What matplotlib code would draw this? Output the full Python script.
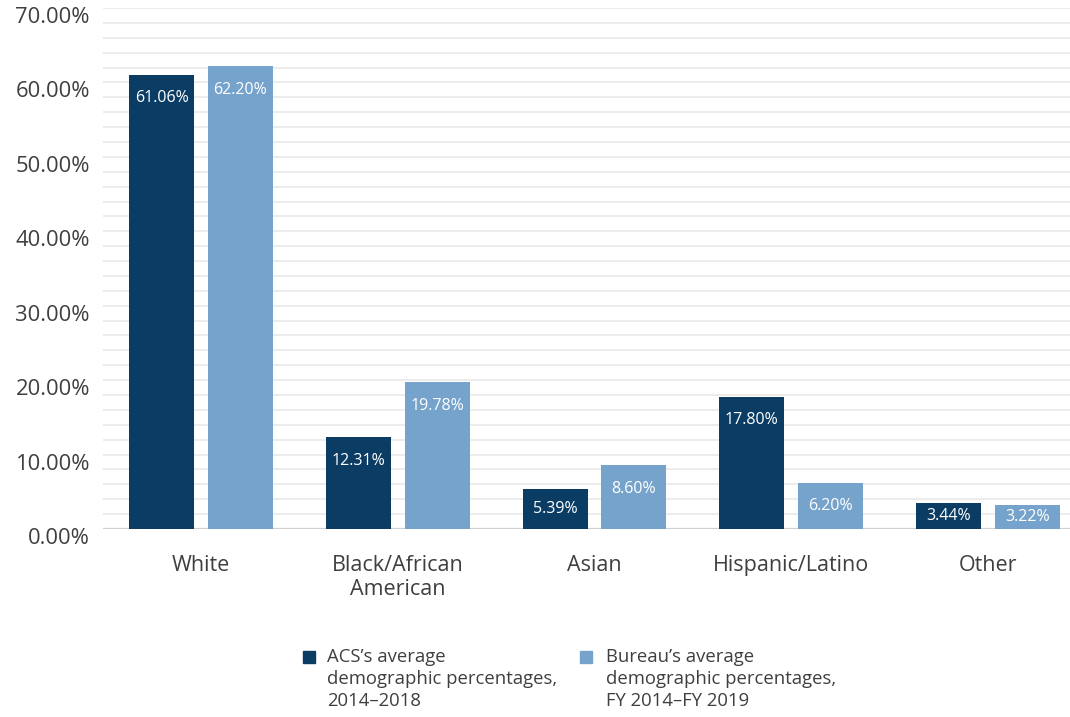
import matplotlib
matplotlib.use("Agg")
import matplotlib.pyplot as plt
import matplotlib.transforms as mtransforms
from matplotlib.patches import Rectangle
import numpy as np

categories = ["White", "Black/African\nAmerican", "Asian", "Hispanic/Latino", "Other"]
acs_values = [61.06, 12.31, 5.39, 17.80, 3.44]
bureau_values = [62.20, 19.78, 8.60, 6.20, 3.22]
series_names = ["ACS\u2019s average\ndemographic percentages,\n2014\u20132018",
                "Bureau\u2019s average\ndemographic percentages,\nFY 2014\u2013FY 2019"]
ytick_values = [0, 10, 20, 30, 40, 50, 60, 70]

DARK = "#0b3c64"
LIGHT = "#76a3cb"
TEXT = "#3f3f3f"

plt.rcParams['font.family'] = ['Open Sans', 'DejaVu Sans']

fig = plt.figure(figsize=(10.70, 7.17), dpi=100)
ax = fig.add_axes([103/1070, 1 - 529/717, 1 - 103/1070, (529 - 8)/717])

x = np.arange(len(categories))
w = 0.33
off = 0.2
ax.bar(x - off, acs_values, w, color=DARK, zorder=3)
ax.bar(x + off, bureau_values, w, color=LIGHT, zorder=3)

for xi, v in zip(x - off, acs_values):
    ax.text(xi, max(v - 3.2, v / 2), f"{v:.2f}%", ha="center", va="center",
            color="white", fontsize=11.5, zorder=4)
for xi, v in zip(x + off, bureau_values):
    ax.text(xi, max(v - 3.2, v / 2), f"{v:.2f}%", ha="center", va="center",
            color="white", fontsize=11.5, zorder=4)

ax.set_xlim(-0.498, 4.417)
ax.set_ylim(0, 70)

for g in np.arange(2, 71, 2):
    ax.axhline(g, color="#e9e9e9", lw=1.2, zorder=1)
ax.axhline(0, color="#d0d0d0", lw=1.6, zorder=2)

# y tick labels (drawn slightly below their gridlines, as in the original)
ax.set_yticks(ytick_values)
ax.set_yticklabels([])
ytrans = mtransforms.blended_transform_factory(ax.transAxes, ax.transData) + \
    mtransforms.ScaledTranslation(-0.13, -0.095, fig.dpi_scale_trans)
for v in ytick_values:
    ax.text(0, v, f"{v:.2f}%", transform=ytrans, ha="right", va="center",
            fontsize=15.8, color=TEXT, clip_on=False)

ax.set_xticks(x)
ax.set_xticklabels(categories, fontsize=15.5, color=TEXT, linespacing=1.15)
ax.tick_params(axis="both", length=0)
ax.tick_params(axis="x", pad=19)
for s in ax.spines.values():
    s.set_visible(False)

# legend
for hx, tx, name, col in [(303, 327, series_names[0], DARK), (580, 606, series_names[1], LIGHT)]:
    fig.patches.append(Rectangle((hx/1070, 1 - 663/717), 12/1070, 12/717,
                                 transform=fig.transFigure, color=col, figure=fig))
    fig.text(tx/1070, 1 - 648/717, name, ha="left", va="top", fontsize=13.3,
             color=TEXT, linespacing=1.3)

fig.savefig("out.png", dpi=100)
